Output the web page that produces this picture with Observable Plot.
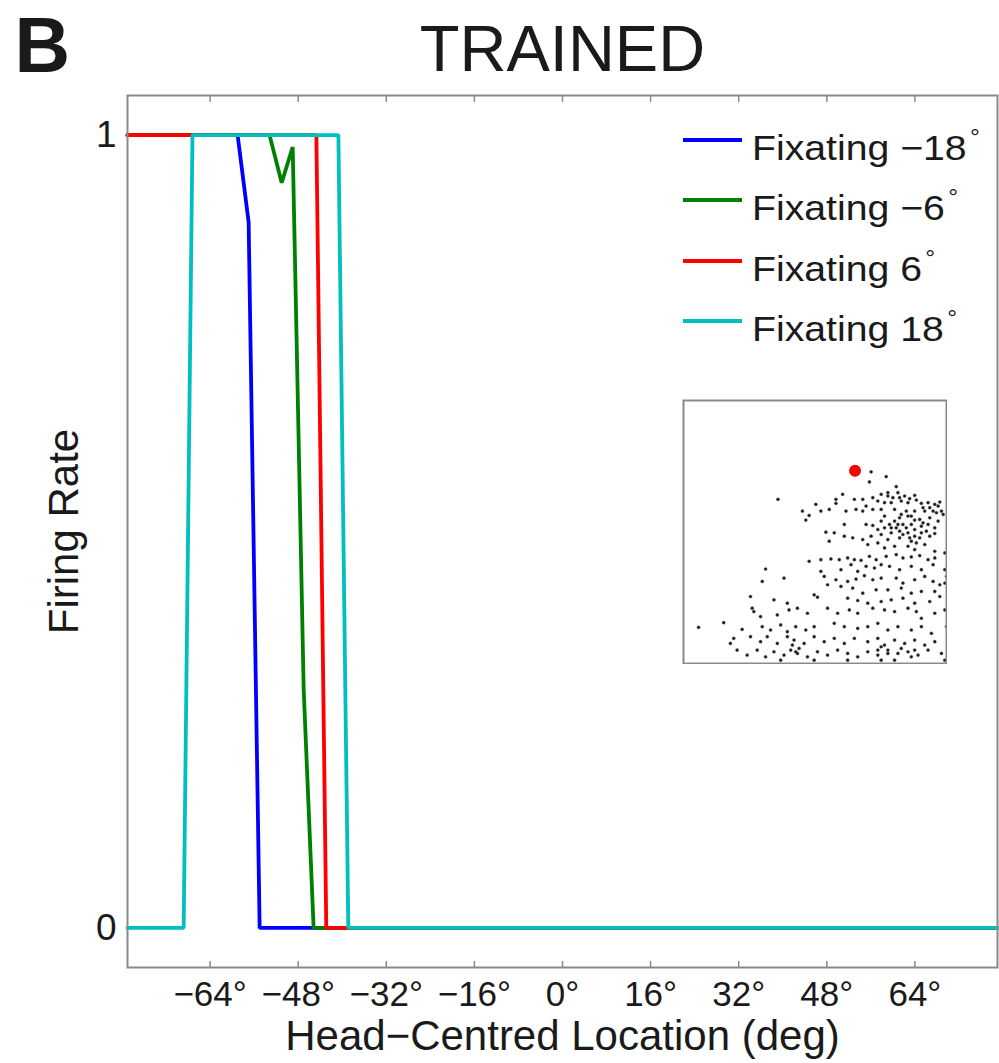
<!DOCTYPE html>
<html>
<head>
<meta charset="utf-8">
<script src="https://cdn.jsdelivr.net/npm/d3@7"></script>
<script src="https://cdn.jsdelivr.net/npm/@observablehq/plot@0.6"></script>
<style>
  html, body { margin: 0; padding: 0; background: #fff; overflow: hidden; }
  #wrap { position: relative; width: 999px; height: 1063px; font-family: "Liberation Sans", Arial, sans-serif; color: #1a1a1a; }
  #wrap svg { display: block; }
  #inset { position: absolute; left: 682px; top: 399px; }
  #legend { position: absolute; left: 683px; top: 0; width: 316px; height: 360px; }
  .lsw { position: absolute; left: 0; width: 59px; height: 4px; }
  .ltx { position: absolute; left: 69px; font-size: 35px; line-height: 1; white-space: nowrap; transform: scaleX(1.12); transform-origin: left center; }
  .ltx sup { font-size: 22px; position: relative; top: -15px; margin-left: 3px; vertical-align: baseline; }
</style>
</head>
<body>
<div id="wrap"></div>
<script>
// ---------------- data ----------------
const xDomain = [-79, 79];
const yDomain = [-0.05, 1.05];
const xTicks = [-64, -48, -32, -16, 0, 16, 32, 48, 64];
const yTicks = [0, 1];

const seriesNames = ["Fixating −18", "Fixating −6", "Fixating 6", "Fixating 18"];
const seriesColors = ["#0000ff", "#008000", "#ff0000", "#00bfbf"];

// head-centred location (deg) and firing rate for each fixation
const blueX  = [-79, -59, -57, -55, 79];
const blueY  = [1, 1, 0.89, 0, 0];
const greenX = [-79, -53.2, -51, -49, -47, -45.2, 79];
const greenY = [1, 1, 0.94, 0.985, 0.3, 0, 0];
const redX   = [-79, -44.7, -42.9, 79];
const redY   = [1, 1, 0, 0];
const cyanX  = [-79, -68.8, -67.2, -40.7, -38.9, 79];
const cyanY  = [0, 0, 1, 1, 0, 0];

const titleText = "TRAINED";
const panelLetter = "B";
const xLabel = "Head−Centred Location (deg)";
const yLabel = "Firing Rate";

// inset scatter (inset-local coordinates, x right, y down)
const insetRed = [[522, 225]];
const insetPoints = [
[570,228],[615,242],[565,258],[645,272],[600,295],[620,290],[650,290],[670,300],[700,298],[292,310],[485,295],[465,310],[520,310],[545,310],[575,305],[405,325],[465,322],[525,340],[555,330],[590,315],[610,320],[630,320],[660,315],[680,320],[720,322],[740,320],[770,330],[780,345],[765,350],[760,325],
[365,345],[385,358],[375,372],[420,345],[445,340],[495,345],[545,345],[575,340],[600,340],[640,340],[675,345],[700,345],[730,345],[755,345],[610,360],[600,375],[640,375],[655,365],[690,360],[715,370],[745,365],[770,375],[490,385],[555,385],[575,388],[610,395],[625,385],[645,395],[665,385],[690,385],[720,390],[740,385],[760,395],
[435,408],[460,410],[445,435],[490,420],[515,425],[545,430],[570,420],[600,415],[630,410],[655,405],[680,410],[700,420],[735,405],[760,412],[715,425],[690,435],[655,425],[620,430],[590,440],[560,445],[610,455],[640,450],[680,450],[700,460],[730,445],[760,465],[790,470],
[620,300],[635,305],[655,305],[685,308],[705,312],[725,335],[745,335],[775,318],[785,355],[660,355],[680,360],[700,372],[725,380],[650,385],[675,395],[700,400],[720,410],[745,420],[665,415],[685,425],[705,440],[630,395],[590,400],
[385,495],[420,490],[450,488],[475,490],[500,485],[520,490],[540,492],[565,480],[585,490],[615,480],[645,475],[665,485],[690,482],[715,478],[740,490],[760,485],[480,520],[510,505],[530,525],[555,510],[580,515],[600,505],[625,510],[655,520],[690,510],[720,520],[755,505],[790,520],[795,540],[790,560],
[255,518],[310,545],[245,555],[420,525],[430,540],[465,550],[500,555],[525,548],[550,538],[575,550],[600,545],[645,545],[665,560],[700,550],[730,540],[755,555],[775,565],[440,565],[480,570],[515,575],[545,590],[585,580],[620,580],[660,575],[690,590],[720,585],[760,585],[400,595],[410,602],[500,605],[530,612],[560,620],[600,615],[630,610],[665,605],[700,620],[745,615],[775,600],
[210,600],[215,635],[220,645],[240,660],[280,610],[320,620],[350,635],[325,640],[290,655],[380,650],[440,635],[470,650],[505,640],[530,650],[575,635],[610,640],[640,645],[680,635],[705,645],[720,665],[760,650],[790,640],[795,690],
[55,692],[130,678],[185,698],[245,690],[270,700],[300,685],[320,705],[345,690],[375,700],[400,690],[460,680],[490,690],[530,695],[560,690],[590,680],[620,700],[650,690],[690,700],[720,690],[750,710],
[160,725],[150,740],[210,720],[240,735],[260,720],[290,740],[320,720],[340,730],[370,740],[400,720],[430,735],[460,725],[490,740],[520,725],[560,735],[590,725],[610,745],[640,730],[670,740],[700,730],[730,745],[760,735],
[170,760],[200,775],[230,760],[255,780],[280,765],[310,775],[330,760],[350,770],[380,780],[410,765],[440,775],[470,760],[500,770],[530,780],[560,765],[590,775],[620,760],[650,770],[680,765],[710,775],[740,760],[780,770],[790,790],[640,790],[600,790],[500,790],[400,790],[300,790],
[335,745],[355,755],[345,765],[600,750],[620,770],[660,755],[690,780],[590,760],[700,760]
];
const insetXDomain = [10, 795];
const insetYDomain = [15, 800];

// ---------------- build ----------------
const seriesX = [blueX, greenX, redX, cyanX];
const seriesY = [blueY, greenY, redY, cyanY];
const rows = [];
seriesNames.forEach((s, i) => seriesX[i].forEach((x, j) => rows.push({s, x, y: seriesY[i][j]})));

const fmtX = d => (d < 0 ? "−" : "") + Math.abs(d) + "°";
const fmtY = d => String(d);
const axisColor = "#8a8a8a";
const fontFamily = "Liberation Sans, Arial, sans-serif";

const main = Plot.plot({
  width: 999, height: 1063,
  marginLeft: 127, marginRight: 2, marginTop: 95, marginBottom: 96,
  style: {fontFamily, color: "#1a1a1a", background: "transparent", overflow: "visible"},
  x: {domain: xDomain},
  y: {domain: yDomain},
  color: {domain: seriesNames, range: seriesColors},
  marks: [
    Plot.line(rows, {x: "x", y: "y", z: "s", stroke: "s", strokeWidth: 3.8, strokeLinejoin: "miter"}),
    Plot.frame({stroke: axisColor, strokeWidth: 2}),
    Plot.axisX(xTicks, {anchor: "bottom", tickSize: -6, stroke: axisColor, strokeWidth: 1.5, tickFormat: () => "", label: null}),
    Plot.axisX(xTicks, {anchor: "top", tickSize: -6, stroke: axisColor, strokeWidth: 1.5, tickFormat: () => "", label: null}),
    Plot.axisX(xTicks, {anchor: "bottom", tickSize: 0, tickPadding: 14, fontSize: 35, tickFormat: fmtX, label: null}),
    Plot.axisY(yTicks, {anchor: "left", tickSize: 0, tickPadding: 11, fontSize: 37, tickFormat: fmtY, label: null}),
    Plot.text([xLabel], {text: d => d, frameAnchor: "bottom", lineAnchor: "middle", textAnchor: "middle", dy: 69, fontSize: 42}),
    Plot.text([yLabel], {text: d => d, frameAnchor: "left", lineAnchor: "middle", textAnchor: "middle", dx: -63, rotate: -90, fontSize: 42}),
    Plot.text([titleText], {text: d => d, frameAnchor: "top", lineAnchor: "middle", textAnchor: "middle", dy: -45, fontSize: 65}),
    Plot.text([panelLetter], {text: d => d, frameAnchor: "top-left", lineAnchor: "middle", textAnchor: "start", dx: -113, dy: -48, fontSize: 77, fontWeight: "bold"})
  ]
});

const inset = Plot.plot({
  width: 265, height: 265,
  margin: 1,
  style: {background: "transparent"},
  x: {domain: insetXDomain, axis: null},
  y: {domain: insetYDomain, reverse: true, axis: null},
  marks: [
    Plot.dot(insetPoints, {x: d => d[0], y: d => d[1], r: 1.6, fill: "#1a1a1a", stroke: "#666", strokeWidth: 0.8, strokeOpacity: 0.5}),
    Plot.dot(insetRed, {x: d => d[0], y: d => d[1], r: 6, fill: "#ff0000"}),
    Plot.frame({stroke: axisColor, strokeWidth: 2})
  ]
});
inset.id = "inset";

const wrap = document.getElementById("wrap");
wrap.appendChild(main);
wrap.appendChild(inset);

// legend (HTML overlay with superscript degree signs)
const legendRowY = [140, 200, 261, 321];
const legend = document.createElement("div");
legend.id = "legend";
seriesNames.forEach((s, i) => {
  const sw = document.createElement("div");
  sw.className = "lsw";
  sw.style.top = (legendRowY[i] - 2) + "px";
  sw.style.background = seriesColors[i];
  legend.appendChild(sw);
  const tx = document.createElement("div");
  tx.className = "ltx";
  tx.style.top = (legendRowY[i] - 10) + "px";
  tx.innerHTML = s + "<sup>°</sup>";
  legend.appendChild(tx);
});
wrap.appendChild(legend);
</script>
</body>
</html>
